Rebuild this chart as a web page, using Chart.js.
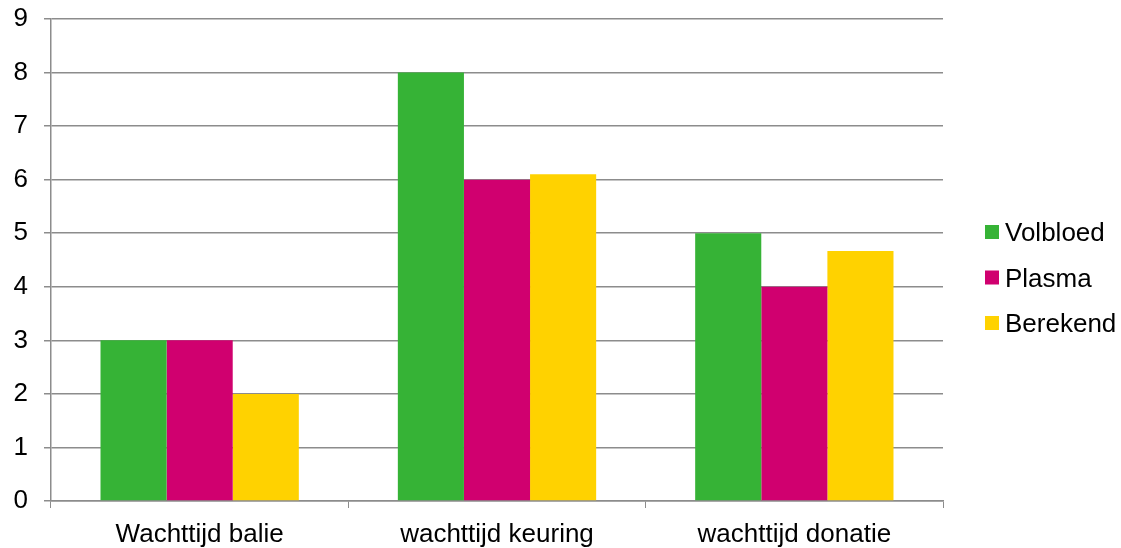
<!DOCTYPE html>
<html>
<head>
<meta charset="utf-8">
<script src="https://cdn.jsdelivr.net/npm/chart.js@4/dist/chart.umd.min.js"></script>
<style>
  html, body { margin: 0; padding: 0; background: #ffffff; }
  #wrap { position: relative; width: 1121px; height: 548px; }
</style>
</head>
<body>
<div id="wrap"><canvas id="chart"></canvas></div>
<script>
// Wachttijden per onderdeel van het bezoek
const categories = ['Wachttijd balie', 'wachttijd keuring', 'wachttijd donatie'];
const volbloed = [3, 8, 5];
const plasma = [3, 6, 4];
const berekend = [2, 6.1, 4.67];
const yTicks = [0, 1, 2, 3, 4, 5, 6, 7, 8, 9];

const gridColor = '#8c8c8c';
const fontFamily = 'Arial, "Liberation Sans", sans-serif';
const fontSize = 26;

// Legend on the right, drawn from the dataset labels and colours
const sideLegend = {
  id: 'sideLegend',
  afterDraw(chart) {
    const ctx = chart.ctx;
    const area = chart.chartArea;
    const sets = chart.data.datasets;
    const box = 14;
    const rowGap = 45.5;
    const midY = chart.height / 2 + 3.5;
    const x = area.right + 42;
    ctx.save();
    ctx.font = fontSize + 'px ' + fontFamily;
    ctx.textAlign = 'left';
    ctx.textBaseline = 'alphabetic';
    sets.forEach((ds, i) => {
      const cy = midY + (i - (sets.length - 1) / 2) * rowGap;
      ctx.fillStyle = ds.backgroundColor;
      ctx.fillRect(x, cy - box / 2, box, box);
      ctx.fillStyle = '#000000';
      ctx.fillText(ds.label, x + box + 6, cy + 9);
    });
    ctx.restore();
  }
};

new Chart(document.getElementById('chart'), {
  type: 'bar',
  data: {
    labels: categories,
    datasets: [
      { label: 'Volbloed', data: volbloed, backgroundColor: '#36b336' },
      { label: 'Plasma', data: plasma, backgroundColor: '#d0006f' },
      { label: 'Berekend', data: berekend, backgroundColor: '#ffd200' }
    ]
  },
  plugins: [sideLegend],
  options: {
    responsive: true,
    maintainAspectRatio: false,
    animation: false,
    datasets: {
      bar: { categoryPercentage: 0.667, barPercentage: 1.0, borderWidth: 0 }
    },
    layout: { padding: { top: 0, left: 0, right: 178, bottom: 0 } },
    plugins: {
      tooltip: { enabled: false },
      legend: { display: false }
    },
    scales: {
      x: {
        offset: true,
        afterFit: (axis) => { axis.height = 47; },
        grid: {
          offset: true,
          drawOnChartArea: false,
          drawTicks: true,
          tickLength: 7,
          color: gridColor
        },
        border: { display: true, color: gridColor, width: 1.5 },
        ticks: {
          color: '#000000',
          padding: 14,
          maxRotation: 0,
          font: { family: fontFamily, size: fontSize, lineHeight: 1.0 }
        }
      },
      y: {
        min: 0,
        max: 9,
        afterBuildTicks: (axis) => { axis.ticks = yTicks.map(v => ({ value: v })); },
        afterFit: (axis) => { axis.width = 51; axis.paddingTop = 19; },
        grid: {
          color: gridColor,
          lineWidth: 1.5,
          drawTicks: true,
          tickLength: 7
        },
        border: { display: true, color: gridColor, width: 1.5 },
        ticks: {
          color: '#000000',
          padding: 16,
          font: { family: fontFamily, size: fontSize, lineHeight: 1.0 }
        }
      }
    }
  }
});
</script>
</body>
</html>
